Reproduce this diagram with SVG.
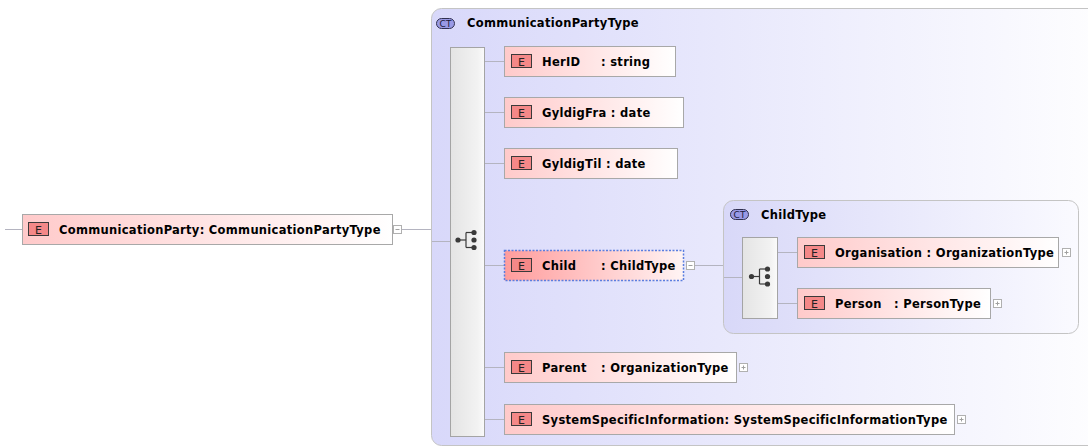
<svg xmlns="http://www.w3.org/2000/svg" width="1088" height="446" viewBox="0 0 1088 446">
  <style>
    .lbl { font-family: "DejaVu Sans", Verdana, sans-serif; font-weight: bold; font-size: 11.5px; letter-spacing: 0.3px; fill: #000; }
    .elem { fill: url(#elemFill); stroke: #a8a8a8; stroke-width: 1; }
    .elemSel { fill: url(#elemSelFill); stroke: #5a7ee0; stroke-width: 1.5; stroke-dasharray: 2 1.5; }
    .eicon { fill: #f48888; stroke: #3a3a3a; stroke-width: 1; }
    .etxt { font-family: "DejaVu Sans", Verdana, sans-serif; font-size: 11px; fill: #222; text-anchor: middle; }
    .ct { stroke: #c4c4c4; stroke-width: 1; }
    .cticon { fill: #9a9ae6; stroke: #303050; stroke-width: 1; }
    .cttxt { font-family: "DejaVu Sans", Verdana, sans-serif; font-size: 9px; fill: #1a1a3a; text-anchor: middle; }
    .seq { fill: url(#seqFill); stroke: #a4a4a4; stroke-width: 1; }
    .conn line { stroke: #b4b4c0; stroke-width: 1; }
    .pm { fill: #fff; stroke: #b0b0b0; stroke-width: 1; }
    .pmline { stroke: #a0a0a0; stroke-width: 1; }
    .icon { stroke: #3a3a3a; stroke-width: 1.2; fill: none; }
    .dot { fill: #3a3a3a; }
  </style>
  <defs>
    <linearGradient id="elemFill" x1="0" y1="0" x2="1" y2="0">
      <stop offset="0" stop-color="#ffcaca"/>
      <stop offset="1" stop-color="#ffffff"/>
    </linearGradient>
    <linearGradient id="elemSelFill" x1="0" y1="0" x2="1" y2="0">
      <stop offset="0" stop-color="#ff9c9c"/>
      <stop offset="1" stop-color="#fff4f4"/>
    </linearGradient>
    <linearGradient id="ctFill" x1="0" y1="0" x2="1" y2="0">
      <stop offset="0" stop-color="#d8d8fa"/>
      <stop offset="1" stop-color="#ffffff"/>
    </linearGradient>
    <linearGradient id="ctInnerFill" x1="0" y1="0" x2="1" y2="0">
      <stop offset="0" stop-color="#d8d8f8"/>
      <stop offset="1" stop-color="#fafaff"/>
    </linearGradient>
    <linearGradient id="seqFill" x1="0" y1="0" x2="1" y2="0">
      <stop offset="0" stop-color="#e4e4e4"/>
      <stop offset="0.8" stop-color="#f2f2f2"/>
      <stop offset="1" stop-color="#fbfbfb"/>
    </linearGradient>
    <!-- sequence compositor glyph -->
    <g id="seqIcon">
      <line class="icon" x1="-8" y1="0" x2="0" y2="0"/>
      <line class="icon" x1="0" y1="-7.5" x2="0" y2="7.5"/>
      <line class="icon" x1="0" y1="-7.5" x2="8" y2="-7.5"/>
      <line class="icon" x1="0" y1="7.5" x2="8" y2="7.5"/>
      <circle class="dot" cx="-8" cy="0" r="2.6"/>
      <circle class="dot" cx="8" cy="-7.5" r="2.6"/>
      <circle class="dot" cx="8" cy="0" r="2.6"/>
      <circle class="dot" cx="8" cy="7.5" r="2.6"/>
    </g>
    <g id="eIcon">
      <rect class="eicon" x="0.5" y="0.5" width="20" height="13"/>
      <text class="etxt" x="10.5" y="11.5">E</text>
    </g>
    <g id="ctIcon">
      <rect class="cticon" x="0.5" y="0.5" width="18" height="10" rx="5"/>
      <text class="cttxt" x="9.5" y="9.2">CT</text>
    </g>
    <g id="plus">
      <rect class="pm" x="0.5" y="0.5" width="8" height="8"/>
      <line class="pmline" x1="2.5" y1="4.5" x2="6.5" y2="4.5"/>
      <line class="pmline" x1="4.5" y1="2.5" x2="4.5" y2="6.5"/>
    </g>
    <g id="minus">
      <rect class="pm" x="0.5" y="0.5" width="8" height="8"/>
      <line class="pmline" x1="2.5" y1="4.5" x2="6.5" y2="4.5"/>
    </g>
  </defs>

  <rect width="1088" height="446" fill="#ffffff"/>

  <!-- complex type CommunicationPartyType -->
  <g id="ct-CommunicationPartyType">
    <rect class="ct" x="431.5" y="8.5" width="700" height="437" rx="10" fill="url(#ctFill)"/>
    <use href="#ctIcon" x="436" y="18"/>
    <text class="lbl" x="467" y="27">CommunicationPartyType</text>
  </g>

  <!-- complex type ChildType -->
  <g id="ct-ChildType">
    <rect class="ct" x="723.5" y="200.5" width="355" height="133" rx="10" fill="url(#ctInnerFill)"/>
    <use href="#ctIcon" x="730" y="209"/>
    <text class="lbl" x="761" y="219">ChildType</text>
  </g>

  <!-- connectors -->
  <g id="connectors" class="conn">
    <line x1="5" y1="229.5" x2="22" y2="229.5"/>
    <line x1="402" y1="229.5" x2="431" y2="229.5"/>
    <line x1="432" y1="241.5" x2="450" y2="241.5"/>
    <line x1="485" y1="61.5" x2="504" y2="61.5"/>
    <line x1="485" y1="112.5" x2="504" y2="112.5"/>
    <line x1="485" y1="163.5" x2="504" y2="163.5"/>
    <line x1="485" y1="265.5" x2="504" y2="265.5"/>
    <line x1="485" y1="367.5" x2="504" y2="367.5"/>
    <line x1="485" y1="419.5" x2="504" y2="419.5"/>
    <line x1="695" y1="265.5" x2="723" y2="265.5"/>
    <line x1="724" y1="277.5" x2="742" y2="277.5"/>
    <line x1="778" y1="252.5" x2="797" y2="252.5"/>
    <line x1="778" y1="303.5" x2="797" y2="303.5"/>
  </g>

  <!-- sequence compositors -->
  <g id="seq-CommunicationPartyType">
    <rect class="seq" x="450.5" y="47.5" width="34" height="389"/>
    <use href="#seqIcon" x="466" y="240"/>
  </g>
  <g id="seq-ChildType">
    <rect class="seq" x="742.5" y="237.5" width="35" height="81"/>
    <use href="#seqIcon" x="759.5" y="276.5"/>
  </g>

  <!-- root element -->
  <g id="el-CommunicationParty">
    <rect class="elem" x="22.5" y="214.5" width="370" height="30"/>
    <use href="#eIcon" x="28" y="222"/>
    <text class="lbl" x="59" y="233.5">CommunicationParty: CommunicationPartyType</text>
    <use href="#minus" x="393" y="225"/>
  </g>

  <g id="el-HerID">
    <rect class="elem" x="504.5" y="46.5" width="171" height="30"/>
    <use href="#eIcon" x="511" y="54"/>
    <text class="lbl" y="65.5"><tspan x="542">HerID</tspan><tspan x="601">: string</tspan></text>
  </g>

  <g id="el-GyldigFra">
    <rect class="elem" x="504.5" y="97.5" width="179" height="30"/>
    <use href="#eIcon" x="511" y="105"/>
    <text class="lbl" x="542" y="116.5">GyldigFra : date</text>
  </g>

  <g id="el-GyldigTil">
    <rect class="elem" x="504.5" y="148.5" width="173" height="30"/>
    <use href="#eIcon" x="511" y="156"/>
    <text class="lbl" x="542" y="167.5">GyldigTil : date</text>
  </g>

  <g id="el-Child">
    <rect class="elemSel" x="504.5" y="250.5" width="179" height="30"/>
    <use href="#eIcon" x="511" y="258"/>
    <text class="lbl" y="269.5"><tspan x="542">Child</tspan><tspan x="601">: ChildType</tspan></text>
    <use href="#minus" x="686" y="261"/>
  </g>

  <g id="el-Parent">
    <rect class="elem" x="504.5" y="352.5" width="232" height="30"/>
    <use href="#eIcon" x="511" y="360"/>
    <text class="lbl" y="371.5"><tspan x="542">Parent</tspan><tspan x="601">: OrganizationType</tspan></text>
    <use href="#plus" x="739" y="363"/>
  </g>

  <g id="el-SystemSpecificInformation">
    <rect class="elem" x="504.5" y="404.5" width="450" height="30"/>
    <use href="#eIcon" x="511" y="412"/>
    <text class="lbl" x="542" y="423.5">SystemSpecificInformation: SystemSpecificInformationType</text>
    <use href="#plus" x="957" y="415"/>
  </g>

  <g id="el-Organisation">
    <rect class="elem" x="797.5" y="237.5" width="261" height="30"/>
    <use href="#eIcon" x="804" y="245"/>
    <text class="lbl" x="835" y="256.5">Organisation : OrganizationType</text>
    <use href="#plus" x="1062" y="248"/>
  </g>

  <g id="el-Person">
    <rect class="elem" x="797.5" y="288.5" width="193" height="30"/>
    <use href="#eIcon" x="804" y="296"/>
    <text class="lbl" y="307.5"><tspan x="835">Person</tspan><tspan x="894">: PersonType</tspan></text>
    <use href="#plus" x="993" y="299"/>
  </g>
</svg>
